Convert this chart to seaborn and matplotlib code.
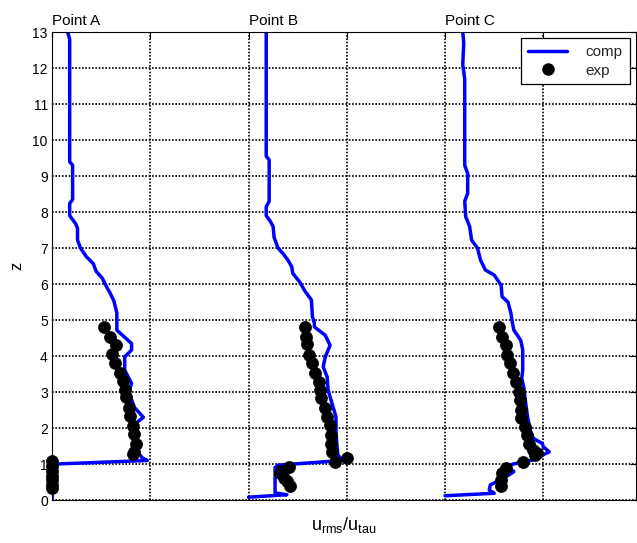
import numpy as np
import pandas as pd
import seaborn as sns
import matplotlib.pyplot as plt

# computed profiles (u_rms/u_tau relative to each station, z)
comp_a_u = [0.16, 0.18, 0.18, 0.18, 0.21, 0.21, 0.18, 0.18, 0.24, 0.26, 0.26, 0.29, 0.35, 0.42,
            0.45, 0.51, 0.56, 0.59, 0.63, 0.66, 0.66, 0.66, 0.81, 0.81, 0.74, 0.74, 0.81, 0.78,
            0.84, 0.93, 0.86, 0.85, 0.86, 0.88, 0.92, 0.97, 0.02, 0.01, 0.0]
comp_a_z = [13.0, 12.8, 12.5, 9.4, 9.3, 8.35, 8.24, 7.9, 7.68, 7.55, 7.22, 7.0, 6.76, 6.57,
            6.35, 6.17, 5.9, 5.76, 5.53, 5.2, 5.0, 4.72, 4.35, 4.17, 3.98, 3.61, 3.24, 3.0,
            2.57, 2.3, 2.15, 1.9, 1.6, 1.3, 1.17, 1.1, 1.0, 0.6, 0.0]

comp_b_u = [0.18, 0.18, 0.21, 0.21, 0.18, 0.18, 0.22, 0.25, 0.26, 0.30, 0.35, 0.40, 0.44, 0.45,
            0.52, 0.58, 0.64, 0.65, 0.67, 0.67, 0.78, 0.83, 0.78, 0.76, 0.80, 0.81, 0.86, 0.89,
            0.89, 0.90, 0.91, 0.95, 0.30, 0.27, 0.27, 0.39, 0.0]
comp_b_z = [13.0, 9.55, 9.45, 8.3, 8.15, 7.9, 7.75, 7.6, 7.3, 7.0, 6.85, 6.67, 6.48, 6.3,
            6.06, 5.78, 5.56, 5.1, 4.92, 4.81, 4.58, 4.3, 3.97, 3.7, 3.42, 3.05, 2.59, 2.31,
            1.9, 1.5, 1.26, 1.1, 0.97, 0.9, 0.2, 0.15, 0.08]

comp_c_u = [0.18, 0.19, 0.18, 0.20, 0.20, 0.23, 0.23, 0.20, 0.21, 0.25, 0.27, 0.33, 0.36, 0.41,
            0.50, 0.57, 0.58, 0.64, 0.67, 0.68, 0.70, 0.77, 0.79, 0.79, 0.79, 0.78, 0.80, 0.82,
            0.84, 0.87, 0.90, 0.99, 1.00, 1.06, 0.99, 0.89, 0.69, 0.64, 0.70, 0.62, 0.46, 0.45,
            0.50, 0.0]
comp_c_z = [13.0, 12.7, 12.1, 11.7, 9.3, 9.07, 8.52, 8.3, 7.87, 7.6, 7.22, 7.0, 6.67, 6.39,
            6.25, 5.97, 5.65, 5.5, 5.19, 5.0, 4.72, 4.44, 4.17, 3.89, 3.61, 3.38, 3.15, 2.7,
            2.3, 1.9, 1.71, 1.57, 1.48, 1.34, 1.25, 1.11, 1.0, 0.93, 0.79, 0.65, 0.42, 0.28,
            0.19, 0.12]

# measured profiles
exp_a_u = [0.53, 0.59, 0.65, 0.61, 0.64, 0.69, 0.72, 0.74, 0.75, 0.78, 0.79, 0.82, 0.83, 0.86,
           0.83, 0.82, 0.0, 0.0, 0.0, 0.0, 0.0, 0.0, 0.0]
exp_a_z = [4.80, 4.54, 4.31, 4.05, 3.82, 3.54, 3.30, 3.06, 2.85, 2.57, 2.33, 2.07, 1.84, 1.57,
           1.34, 1.28, 1.08, 0.95, 0.82, 0.68, 0.55, 0.42, 0.35]

exp_b_u = [0.57, 0.58, 0.59, 0.62, 0.65, 0.68, 0.72, 0.73, 0.74, 0.78, 0.80, 0.83, 0.84, 0.84,
           0.85, 0.88, 1.00, 0.41, 0.33, 0.32, 0.36, 0.39, 0.42]
exp_b_z = [4.80, 4.54, 4.33, 4.03, 3.82, 3.52, 3.29, 3.06, 2.83, 2.55, 2.32, 2.08, 1.81, 1.57,
           1.34, 1.06, 1.18, 0.91, 0.82, 0.74, 0.62, 0.52, 0.40]

exp_c_u = [0.55, 0.58, 0.62, 0.63, 0.66, 0.69, 0.72, 0.75, 0.76, 0.77, 0.77, 0.81, 0.83, 0.85,
           0.89, 0.92, 0.94, 0.79, 0.62, 0.58, 0.57, 0.57]
exp_c_z = [4.81, 4.54, 4.31, 4.03, 3.80, 3.52, 3.29, 3.01, 2.78, 2.50, 2.27, 2.04, 1.81, 1.57,
           1.39, 1.25, 1.32, 1.06, 0.90, 0.75, 0.56, 0.38]

points = ['Point A', 'Point B', 'Point C']
station_shift = [0, 2, 4]


def build_frames():
    comp_u = [comp_a_u, comp_b_u, comp_c_u]
    comp_z = [comp_a_z, comp_b_z, comp_c_z]
    exp_u = [exp_a_u, exp_b_u, exp_c_u]
    exp_z = [exp_a_z, exp_b_z, exp_c_z]
    comp, exp = [], []
    for name, shift, cu, cz, eu, ez in zip(points, station_shift, comp_u, comp_z, exp_u, exp_z):
        comp.append(pd.DataFrame({'u': np.array(cu) + shift, 'z': cz, 'point': name}))
        exp.append(pd.DataFrame({'u': np.array(eu) + shift, 'z': ez, 'point': name}))
    return pd.concat(comp, ignore_index=True), pd.concat(exp, ignore_index=True)


def main():
    comp, exp = build_frames()

    sns.set_theme(style='white')
    plt.rcParams['font.family'] = ['Liberation Sans', 'DejaVu Sans']
    plt.rcParams['mathtext.fontset'] = 'custom'
    plt.rcParams['mathtext.rm'] = 'Liberation Sans'
    plt.rcParams['mathtext.it'] = 'Liberation Sans'

    fig, ax = plt.subplots(figsize=(6.37, 5.43), dpi=100)
    fig.subplots_adjust(left=0.0816, right=0.998, bottom=0.079, top=0.941)

    sns.lineplot(data=comp, x='u', y='z', units='point', estimator=None, sort=False,
                 color='#0000ff', linewidth=2.5, ax=ax, legend=False)
    sns.scatterplot(data=exp, x='u', y='z', color='black', s=75, edgecolor='black',
                    linewidth=0.5, ax=ax, legend=False, zorder=3, clip_on=False)

    ax.set_xlim(0, 5.94)
    ax.set_ylim(0, 13)
    ax.set_xticks(range(6))
    ax.set_xticklabels([])
    ax.set_yticks(range(14))
    ax.tick_params(axis='both', direction='in', length=4, width=0.8, top=True, right=True,
                   labelsize=10, colors='black', pad=3)
    ax.grid(True, color='black', linestyle=(0, (1, 1)), linewidth=1.2)
    for sp in ax.spines.values():
        sp.set_color('black')
        sp.set_linewidth(0.8)

    for name, shift in zip(points, station_shift):
        ax.text(shift, 13.12, name, ha='left', va='bottom', fontsize=11, color='black')

    ax.set_xlabel(r'$\mathregular{u_{rms}/u_{tau}}$', fontsize=13, color='black', labelpad=8)
    ax.set_ylabel('z', fontsize=12, color='black', labelpad=6)

    # one legend entry per data kind
    comp_handle = plt.Line2D([], [], color='#0000ff', linewidth=2.5)
    exp_handle = plt.Line2D([], [], color='black', marker='o', linestyle='none', markersize=8)
    leg = ax.legend([comp_handle, exp_handle], ['comp', 'exp'], loc='upper right', frameon=True,
                    fancybox=False, edgecolor='black', framealpha=1, borderaxespad=0.4,
                    fontsize=11, handlelength=2.6, handletextpad=1.2, borderpad=0.45,
                    labelspacing=0.3)
    leg.get_frame().set_linewidth(0.9)

    fig.savefig('out.png', dpi=100)


if __name__ == '__main__':
    main()
